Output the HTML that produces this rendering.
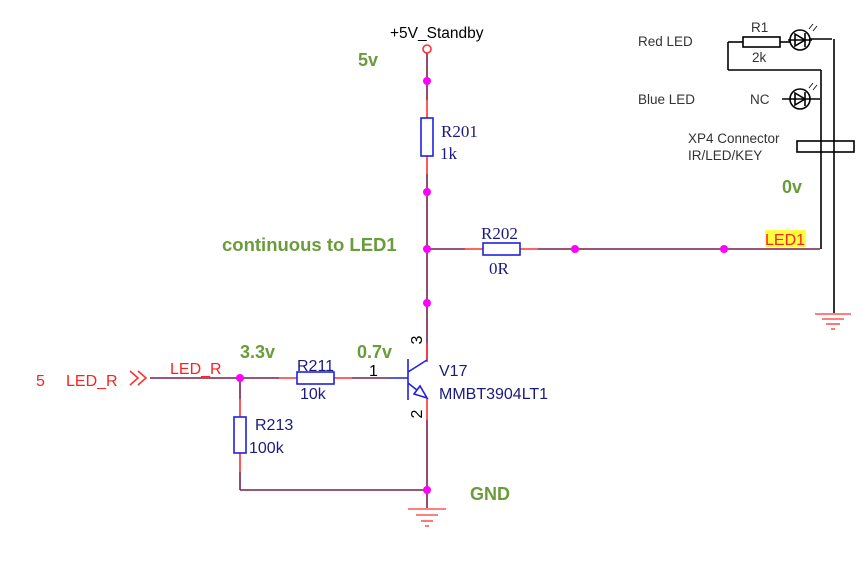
<!DOCTYPE html>
<html><head><meta charset="utf-8"><style>
html,body{margin:0;padding:0;background:#fff;}
svg{display:block;}
.s{font-family:"Liberation Sans",sans-serif;}
.f{font-family:"Liberation Serif",serif;}
.g{fill:#6a9c3c;font-weight:bold;font-family:"Liberation Sans",sans-serif;}
</style></head><body>
<svg width="861" height="582" viewBox="0 0 861 582" xmlns="http://www.w3.org/2000/svg">
<g fill="none" stroke-width="1.6">
<line x1="427" y1="53" x2="427" y2="100" stroke="#7a1f4a"/>
<line x1="427" y1="100" x2="427" y2="118" stroke="#ff3030"/>
<line x1="427" y1="156" x2="427" y2="174" stroke="#ff3030"/>
<line x1="427" y1="174" x2="427" y2="360" stroke="#7a1f4a"/>
<line x1="427" y1="343" x2="427" y2="362" stroke="#ff3030"/>
<line x1="427" y1="398" x2="427" y2="420" stroke="#ff3030"/>
<line x1="427" y1="420" x2="427" y2="508" stroke="#7a1f4a"/>
<line x1="427" y1="249" x2="465" y2="249" stroke="#7a1f4a"/>
<line x1="465" y1="249" x2="483" y2="249" stroke="#ff3030"/>
<line x1="520" y1="249" x2="538" y2="249" stroke="#ff3030"/>
<line x1="538" y1="249" x2="820" y2="249" stroke="#7a1f4a"/>
<line x1="150" y1="378" x2="240" y2="378" stroke="#7a1f4a"/>
<line x1="240" y1="378" x2="279" y2="378" stroke="#7a1f4a"/>
<line x1="279" y1="378" x2="297" y2="378" stroke="#ff3030"/>
<line x1="334" y1="378" x2="352" y2="378" stroke="#ff3030"/>
<line x1="352" y1="378" x2="390" y2="378" stroke="#7a1f4a"/>
<line x1="390" y1="378" x2="408" y2="378" stroke="#2020e0"/>
<line x1="240" y1="378" x2="240" y2="399" stroke="#7a1f4a"/>
<line x1="240" y1="399" x2="240" y2="417" stroke="#ff3030"/>
<line x1="240" y1="453" x2="240" y2="472" stroke="#ff3030"/>
<line x1="240" y1="472" x2="240" y2="490" stroke="#7a1f4a"/>
<line x1="240" y1="490" x2="427" y2="490" stroke="#7a1f4a"/>
<rect x="421" y="118" width="12" height="38" stroke="#2020e0" fill="#fff"/>
<rect x="483" y="243" width="37" height="12" stroke="#2020e0" fill="#fff"/>
<rect x="297" y="372" width="37" height="12" stroke="#2020e0" fill="#fff"/>
<rect x="234" y="417" width="12" height="36" stroke="#2020e0" fill="#fff"/>
<line x1="408" y1="359" x2="408" y2="400" stroke="#2020e0"/>
<line x1="408" y1="372" x2="427" y2="360" stroke="#2020e0"/>
<line x1="408" y1="383" x2="427" y2="398" stroke="#2020e0"/>
<polygon points="427,398 414,394 420,386" stroke="#2020e0" fill="#fff"/>
<circle cx="427" cy="49" r="4" stroke="#ff3030" fill="#fff"/>
<g stroke="#ff3030" stroke-width="1.3">
<line x1="408" y1="509" x2="446" y2="509"/><line x1="416" y1="515" x2="438" y2="515"/><line x1="421" y1="521" x2="433" y2="521"/><line x1="425" y1="526" x2="429" y2="526"/>
<line x1="815" y1="314" x2="851" y2="314"/><line x1="822" y1="319" x2="844" y2="319"/><line x1="826" y1="324" x2="840" y2="324"/><line x1="831" y1="329" x2="835" y2="329"/>
</g>
<polyline points="130,371 138,378 130,385" stroke="#ff3030"/>
<polyline points="138,371 146,378 138,385" stroke="#ff3030"/>
<g stroke="#000" stroke-width="1.6">
<rect x="743" y="37" width="37" height="10" fill="#fff"/>
<line x1="728" y1="42" x2="743" y2="42"/>
<line x1="780" y1="42" x2="790" y2="42"/>
<line x1="728" y1="42" x2="728" y2="70"/>
<line x1="728" y1="70" x2="821" y2="70"/>
<line x1="821" y1="70" x2="821" y2="249"/>
<line x1="809" y1="39" x2="832" y2="39"/>
<line x1="834" y1="39" x2="834" y2="313"/>
<circle cx="800" cy="40" r="10" fill="#fff"/>
<polygon points="795,34 795,46 805,40" fill="#fff"/>
<line x1="805" y1="33" x2="805" y2="47"/>
<line x1="788" y1="40" x2="812" y2="40"/>
<circle cx="800" cy="99" r="10" fill="#fff"/>
<polygon points="795,93 795,105 805,99" fill="#fff"/>
<line x1="805" y1="92" x2="805" y2="106"/>
<line x1="782" y1="99" x2="820" y2="99"/>
<rect x="797" y="141" width="57" height="11" fill="none"/>
</g>
<g stroke="#000" stroke-width="0.8">
<line x1="809" y1="29" x2="813" y2="24"/><line x1="813" y1="31" x2="817" y2="26"/>
<line x1="809" y1="88" x2="813" y2="83"/><line x1="813" y1="90" x2="817" y2="85"/>
</g>
</g>
<g fill="#ff00ff">
<circle cx="427" cy="81" r="4"/><circle cx="427" cy="192" r="4"/><circle cx="427" cy="249" r="4"/>
<circle cx="427" cy="303" r="4"/><circle cx="427" cy="490" r="4"/><circle cx="575" cy="249" r="4"/>
<circle cx="724" cy="249" r="4"/><circle cx="240" cy="378" r="4"/>
</g>
<text x="390" y="38" class="s" font-size="15.5" fill="#000">+5V_Standby</text>
<text x="358" y="66" class="g" font-size="18">5v</text>
<text x="222" y="251" class="g" font-size="18.5">continuous to LED1</text>
<text x="240" y="358" class="g" font-size="18">3.3v</text>
<text x="357" y="358" class="g" font-size="18">0.7v</text>
<text x="470" y="500" class="g" font-size="18">GND</text>
<text x="782" y="193" class="g" font-size="18">0v</text>
<text x="441" y="137" class="f" font-size="17" fill="#1a1a80">R201</text>
<text x="440" y="159" class="f" font-size="17" fill="#1a1a80">1k</text>
<text x="481" y="239" class="f" font-size="17" fill="#1a1a80">R202</text>
<text x="489" y="274" class="f" font-size="17" fill="#1a1a80">0R</text>
<text x="297" y="371" class="s" font-size="16" fill="#1a1a80">R211</text>
<text x="300" y="399" class="s" font-size="16" fill="#1a1a80">10k</text>
<text x="255" y="430" class="s" font-size="16" fill="#1a1a80">R213</text>
<text x="249" y="453" class="s" font-size="16" fill="#1a1a80">100k</text>
<text x="439" y="376" class="s" font-size="16" fill="#1a1a80">V17</text>
<text x="439" y="399" class="s" font-size="16" fill="#1a1a80">MMBT3904LT1</text>
<text x="369" y="376" class="s" font-size="16" fill="#000">1</text>
<text transform="translate(422,340) rotate(-90)" class="s" font-size="16" fill="#000" text-anchor="middle">3</text>
<text transform="translate(422,414) rotate(-90)" class="s" font-size="16" fill="#000" text-anchor="middle">2</text>
<text x="170" y="374" class="s" font-size="16" fill="#ff2020">LED_R</text>
<text x="36" y="386" class="s" font-size="16" fill="#ff2020">5</text>
<text x="66" y="386" class="s" font-size="16" fill="#ff2020">LED_R</text>
<rect x="765" y="230" width="41" height="17" fill="#ffff40"/>
<text x="765" y="245" class="s" font-size="16" fill="#ff2020">LED1</text>
<text x="638" y="46" class="s" font-size="13.5" fill="#333">Red LED</text>
<text x="638" y="104" class="s" font-size="13.5" fill="#333">Blue LED</text>
<text x="751" y="32" class="s" font-size="13.5" fill="#333">R1</text>
<text x="752" y="62" class="s" font-size="13.5" fill="#333">2k</text>
<text x="750" y="104" class="s" font-size="13.5" fill="#333">NC</text>
<text x="688" y="143" class="s" font-size="13.5" fill="#333">XP4 Connector</text>
<text x="688" y="160" class="s" font-size="13.5" fill="#333">IR/LED/KEY</text>
</svg>
</body></html>
